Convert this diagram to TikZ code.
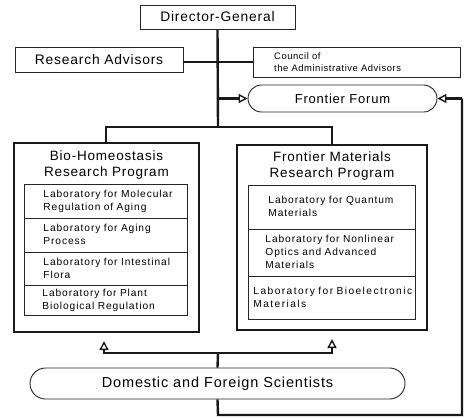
\documentclass[tikz,border=0pt]{standalone}
\usepackage{fontspec}
\setmainfont[LetterSpace=6]{Liberation Sans}
\usetikzlibrary{arrows.meta,shapes.misc}
\newcommand{\labtxt}[2]{\hspace*{#1}\begin{tabular}{@{}l@{}}#2\end{tabular}}
\begin{document}
\begin{tikzpicture}[x=1pt,y=-1pt,
  box/.style={draw=black!85,line width=0.9pt,inner sep=0pt},
  pill/.style={draw=black!85,line width=0.9pt,rounded rectangle,inner sep=0pt},
  prog/.style={draw=black!90,line width=2.8pt,inner sep=0pt},
  lab/.style={draw=black!85,line width=0.9pt,anchor=north west,inner sep=0pt,align=left,
    font=\fontsize{10.2}{13}\selectfont\addfontfeature{LetterSpace=9},text width=#1},
  conn/.style={draw=black!90,line width=2.4pt},
  tip/.style={-{Triangle[open,line width=1.4pt,length=9pt,width=9pt]}},
  bigfont/.style={font=\fontsize{13.8}{16}\selectfont},
  titlefont/.style={font=\fontsize{13.5}{16}\selectfont,align=center}
]
\useasboundingbox (0,0) rectangle (468,418);
\fill[white] (0,0) rectangle (468,418);

% top boxes
\node[box,bigfont,minimum width=155pt,minimum height=24pt] (dg) at (217.5,17) {Director-General};
\node[box,bigfont,minimum width=168pt,minimum height=25pt] (ra) at (99,59.5) {Research Advisors};
\node[box,minimum width=207pt,minimum height=30pt] (cou) at (356.5,62) {};
\node[anchor=west,align=left,font=\fontsize{9.4}{11.5}\selectfont,inner sep=0pt] (coutext) at (274,62) {Council of\\the Administrative Advisors};
\node[pill,font=\fontsize{13}{16}\selectfont,minimum width=189pt,minimum height=27pt] (forum) at (342.5,98.5) {Frontier Forum};

% program boxes
\draw[prog] (14,143) rectangle (199,332);
\coordinate (biotop) at (106,143);
\coordinate (biobot) at (104,332);
\node[titlefont,inner sep=0pt] (biot) at (106.5,165) {Bio-Homeostasis\\Research Program};

\draw[prog] (237,145) rectangle (427,330);
\coordinate (fmtop) at (332,145);
\coordinate (fmbot) at (332,330);
\node[titlefont,inner sep=0pt] (fmt) at (332,166) {Frontier Materials\\Research Program};

% left labs
\node[lab=163pt,minimum height=34pt] (l1) at (24,184) {\labtxt{19pt}{Laboratory for Molecular\\Regulation of Aging}};
\node[lab=163pt,minimum height=34pt] (l2) at (24,218) {\labtxt{19pt}{Laboratory for Aging\\Process}};
\node[lab=163pt,minimum height=33pt] (l3) at (24,252) {\labtxt{19pt}{Laboratory for Intestinal\\Flora}};
\node[lab=163pt,minimum height=30pt] (l4) at (24,285) {\labtxt{18pt}{Laboratory for Plant\\Biological Regulation}};

% right labs
\node[lab=167pt,minimum height=44pt] (r1) at (248,185) {\labtxt{20pt}{Laboratory for Quantum\\Materials}};
\node[lab=167pt,minimum height=47pt] (r2) at (248,229) {\labtxt{17pt}{Laboratory for Nonlinear\\Optics and Advanced\\Materials}};
\node[lab=167pt,minimum height=43pt] (r3) at (248,276) {\labtxt{5pt}{\addfontfeature{LetterSpace=14}Laboratory for Bioelectronic\\\addfontfeature{LetterSpace=14}Materials}};

% domestic
\node[pill,font=\fontsize{14.5}{17}\selectfont,minimum width=375pt,minimum height=31pt] (dom) at (217.5,383.5) {Domestic and Foreign Scientists};

% connectors
\coordinate (j1) at (218,127);
\coordinate (j2) at (218,353);
\coordinate (bl) at (218,415);
\coordinate (br) at (462,415);
\coordinate (tr) at (462,98.5);
\coordinate (fj) at (218,98.5);
\draw[conn] (dg.south) -- (j1);
\draw[conn] (ra.east |- cou.west) -- (cou.west);
\draw[conn] (j1) -| (biotop);
\draw[conn] (j1) -| (fmtop);
\draw[conn,tip] (fj) -- (forum.west);
\draw[conn] (dom.north) -- (j2);
\draw[conn,tip,shorten >=9pt] (j2) -| (biobot);
\draw[conn,tip,shorten >=9pt] (j2) -| (fmbot);
\draw[conn] (dom.south) -- (bl) -- (br) -- (tr);
\draw[conn,tip] (tr) -- (forum.east);
\end{tikzpicture}
\end{document}
